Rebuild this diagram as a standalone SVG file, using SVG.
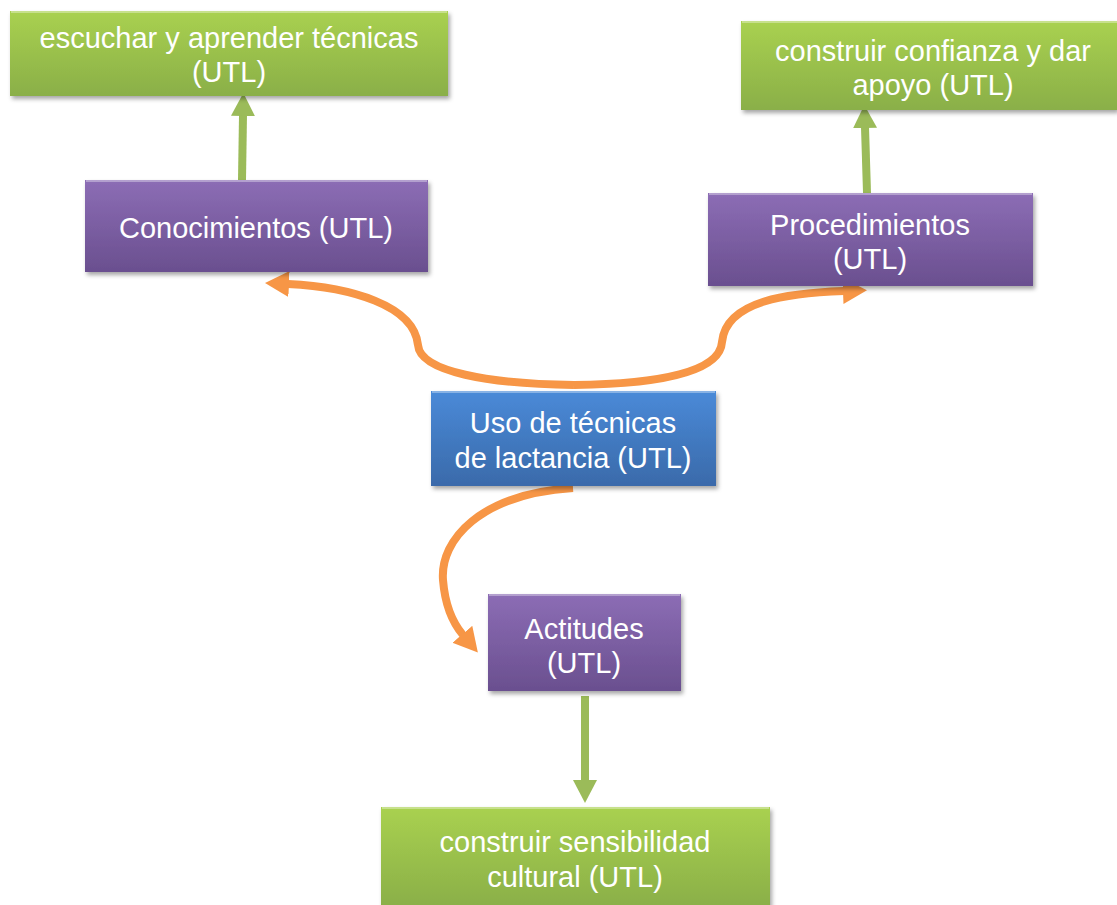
<svg xmlns="http://www.w3.org/2000/svg" width="1117" height="905" viewBox="0 0 1117 905">
<defs>
<linearGradient id="gGreen" x1="0" y1="0" x2="0" y2="1"><stop offset="0" stop-color="#a9d150"/><stop offset="1" stop-color="#8aaf48"/></linearGradient>
<linearGradient id="gPurple" x1="0" y1="0" x2="0" y2="1"><stop offset="0" stop-color="#8c6db5"/><stop offset="1" stop-color="#6a4f8f"/></linearGradient>
<linearGradient id="gBlue" x1="0" y1="0" x2="0" y2="1"><stop offset="0" stop-color="#4a8ad8"/><stop offset="1" stop-color="#3a6aaa"/></linearGradient>
<filter id="sh" x="-5%" y="-5%" width="112%" height="120%"><feDropShadow dx="2" dy="3" stdDeviation="2" flood-color="#000" flood-opacity="0.35"/></filter>
<marker id="mGreen" markerUnits="userSpaceOnUse" markerWidth="26" markerHeight="26" viewBox="0 0 26 26" refX="1" refY="13" orient="auto"><path d="M0,1 L23,13 L0,25 Z" fill="#9bbb59"/></marker>
<marker id="mOrange" markerUnits="userSpaceOnUse" markerWidth="28" markerHeight="28" viewBox="0 0 28 28" refX="1" refY="14" orient="auto"><path d="M0,1 L24,14 L0,27 Z" fill="#f79646"/></marker>
<style>
.box{filter:url(#sh);}
.hl{fill:none;stroke:#ffffff;stroke-opacity:0.35;stroke-width:2;}
.t{font-family:"Liberation Sans",Arial,sans-serif;font-size:29px;fill:#ffffff;text-anchor:middle;}
.cg{fill:none;stroke:#9bbb59;stroke-width:8;marker-end:url(#mGreen);}
.co{fill:none;stroke:#f79646;stroke-width:8;marker-end:url(#mOrange);}
</style>
</defs>
<rect width="1117" height="905" fill="#ffffff"/>
<g id="connectors">
<path class="co" d="M574,385 C490,384 420,372 418,345 C414,305 350,287 288,284"/>
<path class="co" d="M574,385 C660,384 720,372 722,342 C726,300 790,293 844,291"/>
<path class="co" d="M573,488 C480,494 440,540 443,580 C445,605 452,622 463,635"/>
<path class="cg" d="M242,180 L243,115"/>
<path class="cg" d="M867,193 L865,127"/>
<path class="cg" d="M585,696 L585,781"/>
</g>
<g id="n1">
<rect class="box" x="10" y="11" width="438" height="85" fill="url(#gGreen)"/>
<path class="hl" d="M11,12 H447"/>
<text class="t" x="229" y="48">escuchar y aprender técnicas</text>
<text class="t" x="229" y="82">(UTL)</text>
</g>
<g id="n2">
<rect class="box" x="741" y="21" width="376" height="89" fill="url(#gGreen)"/>
<path class="hl" d="M742,22 H1117"/>
<text class="t" x="933" y="61">construir confianza y dar</text>
<text class="t" x="933" y="95">apoyo (UTL)</text>
</g>
<g id="n3">
<rect class="box" x="85" y="180" width="343" height="92" fill="url(#gPurple)"/>
<path class="hl" d="M86,181 H427"/>
<text class="t" x="256" y="238">Conocimientos (UTL)</text>
</g>
<g id="n4">
<rect class="box" x="708" y="193" width="325" height="93" fill="url(#gPurple)"/>
<path class="hl" d="M709,194 H1032"/>
<text class="t" x="870" y="235">Procedimientos</text>
<text class="t" x="870" y="269">(UTL)</text>
</g>
<g id="n5">
<rect class="box" x="431" y="391" width="285" height="95" fill="url(#gBlue)"/>
<path class="hl" d="M432,392 H715"/>
<text class="t" x="573" y="433">Uso de técnicas</text>
<text class="t" x="573" y="468">de lactancia (UTL)</text>
</g>
<g id="n6">
<rect class="box" x="488" y="594" width="193" height="97" fill="url(#gPurple)"/>
<path class="hl" d="M489,595 H680"/>
<text class="t" x="584" y="639">Actitudes</text>
<text class="t" x="584" y="673">(UTL)</text>
</g>
<g id="n7">
<rect class="box" x="381" y="807" width="389" height="100" fill="url(#gGreen)"/>
<path class="hl" d="M382,808 H769"/>
<text class="t" x="575" y="852">construir sensibilidad</text>
<text class="t" x="575" y="887">cultural (UTL)</text>
</g>
</svg>
